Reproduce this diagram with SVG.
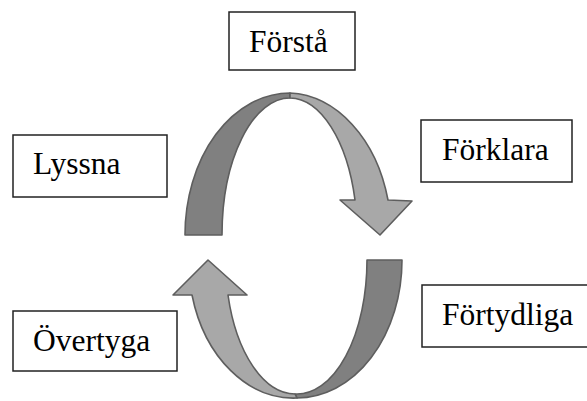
<svg xmlns="http://www.w3.org/2000/svg" width="587" height="401" viewBox="0 0 587 401">
<style>
.box{fill:#fff;stroke:#222;stroke-width:1.5}
.lbl{font-size:31.5px;fill:#000}
.dark{fill:#808080;stroke:#5e5e5e;stroke-width:1.6;stroke-linejoin:round}
.light{fill:#a8a8a8;stroke:#5e5e5e;stroke-width:1.6;stroke-linejoin:round}
</style>
<rect width="587" height="401" fill="#fff"/>
<g id="connectors">
<path class="dark" d="M185,235 A105 142 0 0 1 290,93 L290,98 A68 137 0 0 0 222,235 Z"/>
<path class="light" d="M290,93 A105 142 0 0 1 388,200 L412,201 L380,235 L340,200 L355,200 A68 137 0 0 0 290,98 Z"/>
<path class="dark" d="M367,260 L402,260 A105 138 0 0 1 297,398 L295,394 A70 134 0 0 0 367,260 Z"/>
<path class="light" d="M297,398 A105 138 0 0 1 192,295 L173,295 L208,260 L247,295 L228,295 A70 134 0 0 0 295,394 Z"/>
</g>
<g id="node-forsta">
<rect class="box" x="229" y="12" width="126" height="58"/>
<text class="lbl" x="249" y="52" font-family="Liberation Serif">Förstå</text>
</g>
<g id="node-lyssna">
<rect class="box" x="13" y="135" width="154" height="62"/>
<text class="lbl" x="33" y="174" font-family="Liberation Serif">Lyssna</text>
</g>
<g id="node-forklara">
<rect class="box" x="421" y="120" width="151" height="62"/>
<text class="lbl" x="442" y="160" font-family="Liberation Serif">Förklara</text>
</g>
<g id="node-fortydliga">
<rect class="box" x="422" y="285" width="170" height="62"/>
<text class="lbl" x="442" y="325" font-family="Liberation Serif">Förtydliga</text>
</g>
<g id="node-overtyga">
<rect class="box" x="13" y="311" width="164" height="60"/>
<text class="lbl" x="33" y="351" font-family="Liberation Serif">Övertyga</text>
</g>
</svg>
